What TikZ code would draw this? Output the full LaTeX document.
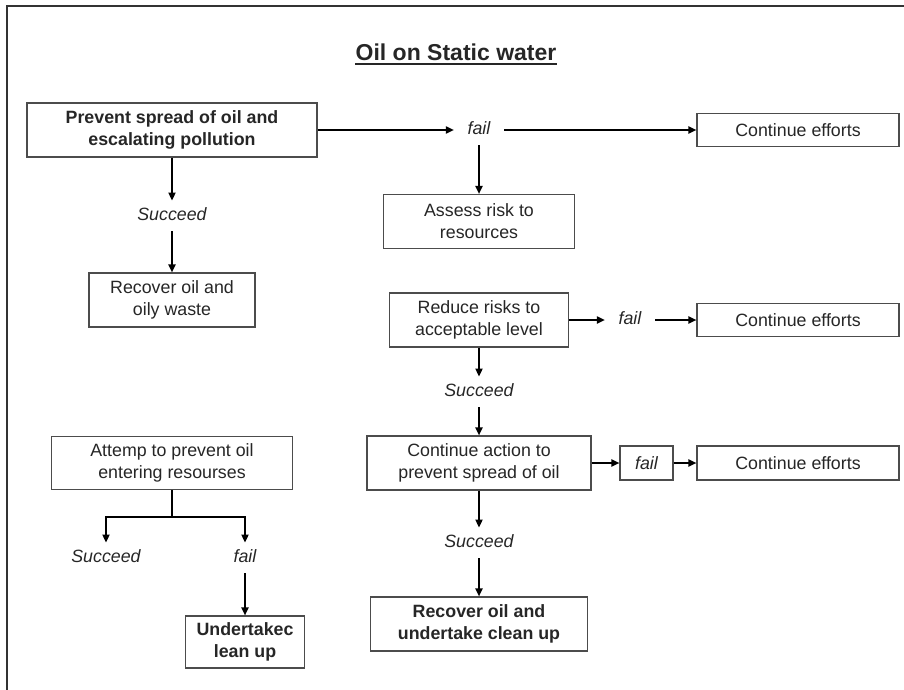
\documentclass[tikz,border=0pt]{standalone}
\usepackage{fontspec}
\setmainfont{Liberation Sans}
\usetikzlibrary{positioning, arrows.meta}

\tikzset{
	box/.style={draw=black!70, line width=1.1pt, fill=white, inner sep=0pt, minimum height=54pt, align=center, text=black!85, font=\fontsize{17.8}{22}\selectfont},
	bbox/.style={box, font=\fontsize{17.8}{22}\selectfont\bfseries},
	failbox/.style={box, minimum width=53pt, minimum height=34pt, font=\fontsize{17.8}{22}\selectfont\itshape},
	lbl/.style={inner xsep=13.5pt, inner ysep=7pt, text height=12.7pt, text depth=3.7pt, text=black!85, font=\fontsize{17.8}{22}\selectfont\itshape},
	arr/.style={line width=1.8pt, -{Triangle[length=8pt,width=7pt]}},
}

\begin{document}
\begin{tikzpicture}[x=1pt, y=-1pt, on grid]
	\useasboundingbox (0,0) rectangle (904,690);
	\draw[line width=1.8pt, black!80] (7,690) -- (7,6) -- (904,6);
	\node[inner sep=0pt, text=black!85, font=\fontsize{23}{28}\selectfont\bfseries] (t) at (456,52) {Oil on Static water};
	\draw[line width=1.6pt, black!85] ([yshift=-3.5pt]t.base west) -- ([yshift=-3.5pt]t.base east);
	
	\node[bbox, minimum width=290pt] (p1) at (172,130) {Prevent spread of oil and\\escalating pollution};
	\node[lbl, right=307pt of p1] (f1) {fail};
	\node[box, minimum width=202pt, minimum height=33pt, right=319pt of f1] (c1) {Continue efforts};
	\node[box, minimum width=191pt, below=91.5pt of f1] (a1) {Assess risk to\\resources};
	\node[lbl, below=86pt of p1] (s1) {Succeed};
	\node[box, minimum width=166pt, below=84pt of s1] (r1) {Recover oil and\\oily waste};
	
	\node[box, minimum width=179pt, below=98.5pt of a1] (a2) {Reduce risks to\\acceptable level};
	\node[lbl, right=151pt of a2] (f2) {fail};
	\node[box, minimum width=202pt, minimum height=33pt, right=168pt of f2] (c2) {Continue efforts};
	\node[lbl, below=72pt of a2] (s2) {Succeed};
	\node[box, minimum width=224pt, below=71pt of s2] (a3) {Continue action to\\prevent spread of oil};
	\node[failbox, right=167.5pt of a3] (f4) {fail};
	\node[box, minimum width=202pt, minimum height=34pt, right=151.5pt of f4] (c3) {Continue efforts};
	\node[lbl, below=80pt of a3] (s3) {Succeed};
	\node[bbox, minimum width=217pt, below=81pt of s3] (r2) {Recover oil and\\undertake clean up};
	
	\node[box, minimum width=241pt, minimum height=53pt] (a4) at (172,463) {Attemp to prevent oil\\entering resourses};
	\node[lbl, below left=95pt and 66pt of a4] (s4) {Succeed};
	\node[lbl, below right=95pt and 73pt of a4] (f3) {fail};
	\node[bbox, minimum width=119pt, minimum height=52pt, below=84pt of f3] (u1) {Undertakec\\lean up};
	
	\draw[arr] (p1) -- (f1);
	\draw[arr] (f1) -- (c1);
	\draw[arr] (f1) -- (a1);
	\draw[arr] (p1) -- (s1);
	\draw[arr] (s1) -- (r1);
	\draw[arr] (a2) -- (f2);
	\draw[arr] (f2) -- (c2);
	\draw[arr] (a2) -- (s2);
	\draw[arr] (s2) -- (a3);
	\draw[arr] (a3) -- (f4);
	\draw[arr] (f4) -- (c3);
	\draw[arr] (a3) -- (s3);
	\draw[arr] (s3) -- (r2);
	\draw[line width=1.8pt] (a4.south) -- ++(0,27) coordinate (j1);
	\draw[arr] (j1) -| (s4);
	\draw[arr] (j1) -| (f3);
	\draw[arr] (f3) -- (u1);
\end{tikzpicture}
\end{document}
